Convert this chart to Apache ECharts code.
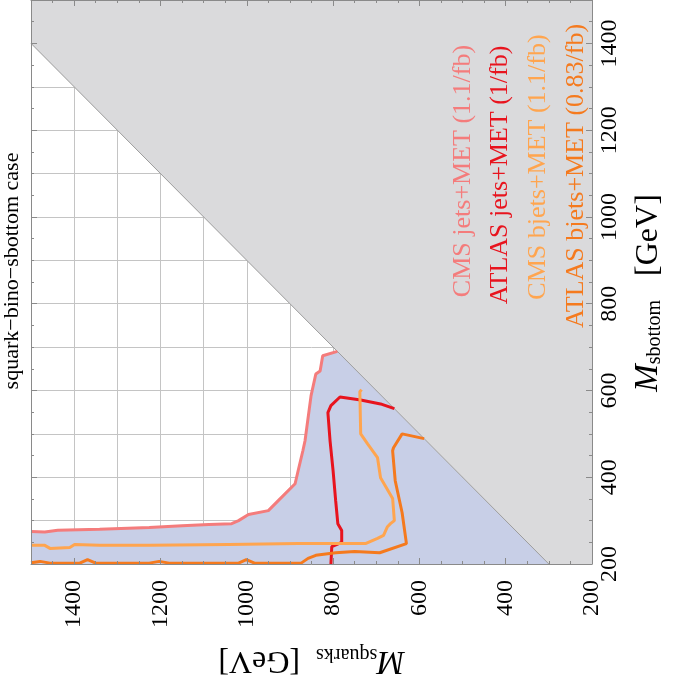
<!DOCTYPE html>
<html><head><meta charset="utf-8">
<script src="https://cdn.jsdelivr.net/npm/echarts@6/dist/echarts.min.js"></script>
<style>html,body{margin:0;padding:0;background:#fff}#c{width:673px;height:688px}</style>
</head><body><div id="c"></div>
<script>
// axis ranges: horizontal = M_squarks (reversed), vertical = M_sbottom
const axisMin = 200, axisMax = 1500;
const labeledTicks = [200, 400, 600, 800, 1000, 1200, 1400];

// [M_squarks, M_sbottom] pairs
const cmsJets = [[1500,275],[1468,274],[1438,278],[1341,280],[1226,284],[1150,288],[1088,291],[1035,293],[1019,300],[996,314],[950,323],[927,346],[888,385],[881,415],[870,461],[865,484],[851,588],[840,638],[830,645],[824,680],[790,690]];
const atlasJets = [[805,200],[803,240],[780,250],[780,277],[789,293],[794,346],[800,415],[807,484],[812,549],[805,565],[784,585],[736,578],[690,569],[658,558]];
const cmsBjets = [[1500,243],[1468,243],[1456,236],[1410,238],[1399,245],[1341,243],[1226,243],[1042,245],[881,247],[725,247],[697,259],[683,266],[674,286],[667,293],[658,300],[662,351],[690,399],[697,445],[720,477],[736,500],[738,597],[734,602]];
const atlasBjets = [[1500,203],[1479,206],[1456,202],[1387,202],[1369,210],[1350,202],[1226,202],[1203,206],[1180,202],[1019,202],[1001,210],[982,202],[874,202],[858,213],[840,220],[794,226],[750,229],[692,226],[630,247],[640,318],[656,392],[662,461],[660,468],[640,500],[589,489]];
// kinematically forbidden region (M_sbottom > M_squarks - 100) and diagonal
const forbidden = [[1500,1400],[300,200],[200,200],[200,1500],[1500,1500]];
const diagonal = [[1500,1400],[300,200]];

const seriesNames = ['CMS jets+MET (1.1/fb)','ATLAS jets+MET (1/fb)','CMS bjets+MET (1.1/fb)','ATLAS bjets+MET (0.83/fb)'];
const colors = ['#f47c7c','#e8141e','#ffa54f','#f57a1e'];
const BLUE = '#c8cfe7', GREY = '#dadadc';
const FAM = 'Liberation Serif';

// excluded region: below CMS jets curve and below the diagonal
const excluded = [[1500,200]].concat(cmsJets).concat([[300,200]]);

function polygon(name, pts, fill, z){
  return {type:'custom', name, xAxisIndex:0, yAxisIndex:0, z, silent:true, clip:true,
    data:[pts[0]], encode:{x:0,y:1},
    renderItem:(params, api)=>({type:'polygon', shape:{points: pts.map(p=>api.coord(p))}, style:{fill, stroke:null}})};
}
function line(name, pts, color, width, z){
  return {type:'line', name, xAxisIndex:0, yAxisIndex:0, z, data:pts, showSymbol:false, symbol:'none',
    lineStyle:{color, width}, itemStyle:{color}, silent:true, clip:true, animation:false};
}

const TICKC = '#8a8a8a';
const tickAxisBase = {min:axisMin, max:axisMax, interval:100, z:5,
  axisLine:{show:true, onZero:false, lineStyle:{color:TICKC, width:1}},
  axisTick:{show:true, inside:true, length:3, lineStyle:{color:TICKC}},
  minorTick:{show:true, splitNumber:2, length:3, lineStyle:{color:TICKC}},
  splitLine:{show:false}};
const majorAxisBase = {min:axisMin, max:axisMax, interval:200, z:5,
  axisLine:{show:false}, axisLabel:{show:false}, splitLine:{show:false},
  axisTick:{show:true, inside:true, length:6, lineStyle:{color:TICKC}}};
const gridAxisBase = {min:axisMin, max:axisMax, interval:100, z:0,
  axisLine:{show:false}, axisTick:{show:false}, axisLabel:{show:false},
  splitLine:{show:true, lineStyle:{color:'#c4c4c4', width:1}}};
const labelFmt = v => labeledTicks.includes(v) ? String(v) : '';
const nameStyle = {color:'#000', fontFamily:FAM, fontSize:32,
  rich:{m:{fontFamily:FAM, fontStyle:'italic', fontSize:33, color:'#000'},
        s:{fontFamily:FAM, fontSize:20, color:'#000', verticalAlign:'bottom', padding:[13,0,0,0]}}};

const chart = echarts.init(document.getElementById('c'), null, {renderer:'canvas'});
chart.setOption({
  animation:false,
  backgroundColor:'#fff',
  grid:{left:31, right:77, top:-1, bottom:124, containLabel:false},
  xAxis:[
    Object.assign({}, tickAxisBase, {type:'value', position:'bottom', inverse:true,
      axisLabel:{show:true, rotate:90, margin:16, formatter:labelFmt, color:'#000', fontFamily:FAM, fontSize:24, showMaxLabel:false},
      name:'{m|M}{s|squarks}  [GeV]', nameLocation:'middle', nameGap:80, nameRotate:180, nameTextStyle:nameStyle}),
    Object.assign({}, tickAxisBase, {type:'value', position:'top', inverse:true, axisLabel:{show:false}}),
    Object.assign({}, gridAxisBase, {type:'value', position:'top', inverse:true}),
    Object.assign({}, majorAxisBase, {type:'value', position:'bottom', inverse:true}),
    Object.assign({}, majorAxisBase, {type:'value', position:'top', inverse:true})
  ],
  yAxis:[
    Object.assign({}, tickAxisBase, {type:'value', position:'right',
      axisLabel:{show:true, rotate:90, margin:6, formatter:labelFmt, color:'#000', fontFamily:FAM, fontSize:24, showMaxLabel:false},
      name:'{m|M}{s|sbottom}   [GeV]', nameLocation:'middle', nameGap:40, nameRotate:90,
      nameTextStyle:Object.assign({}, nameStyle, {padding:[0,22,0,0]})}),
    Object.assign({}, tickAxisBase, {type:'value', position:'left', axisLabel:{show:false}}),
    Object.assign({}, gridAxisBase, {type:'value', position:'left'}),
    Object.assign({}, majorAxisBase, {type:'value', position:'right'}),
    Object.assign({}, majorAxisBase, {type:'value', position:'left'})
  ],
  series:[
    polygon('excluded', excluded, BLUE, 1),
    polygon('forbidden', forbidden, GREY, 1),
    line('diagonal', diagonal, '#9c9c9c', 1, 2),
    line(seriesNames[0], cmsJets, colors[0], 3, 3),
    line(seriesNames[1], atlasJets, colors[1], 3, 3),
    line(seriesNames[2], cmsBjets, colors[2], 3, 3),
    line(seriesNames[3], atlasBjets, colors[3], 3, 3)
  ],
  graphic:[
    {type:'text', x:12, y:271, rotation:Math.PI/2, z:10, style:{text:'squark\u2212bino\u2212sbottom case', fill:'#000', fontFamily:FAM, fontSize:22, align:'center', verticalAlign:'middle'}},
    {type:'text', x:463, y:171, rotation:Math.PI/2, z:10, style:{text:seriesNames[0], fill:colors[0], fontFamily:FAM, fontSize:26, align:'center', verticalAlign:'middle'}},
    {type:'text', x:500, y:175, rotation:Math.PI/2, z:10, style:{text:seriesNames[1], fill:colors[1], fontFamily:FAM, fontSize:26, align:'center', verticalAlign:'middle'}},
    {type:'text', x:538, y:167, rotation:Math.PI/2, z:10, style:{text:seriesNames[2], fill:colors[2], fontFamily:FAM, fontSize:26, align:'center', verticalAlign:'middle'}},
    {type:'text', x:576, y:176, rotation:Math.PI/2, z:10, style:{text:seriesNames[3], fill:colors[3], fontFamily:FAM, fontSize:26, align:'center', verticalAlign:'middle'}}
  ]
});
</script></body></html>
